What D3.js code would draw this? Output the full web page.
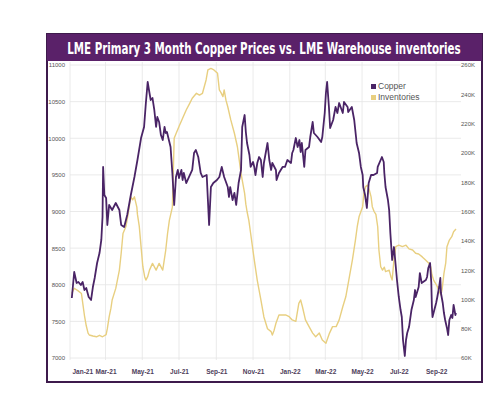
<!DOCTYPE html>
<html>
<head>
<meta charset="utf-8">
<script src="https://cdn.jsdelivr.net/npm/d3@7"></script>
<style>
  body { margin: 0; background: #fff; }
  svg { display: block; font-family: "Liberation Sans", Arial, sans-serif; }
</style>
</head>
<body>
<div id="chart"></div>
<script>
// ============================
// Data
// ============================

const title = "LME Primary 3 Month Copper Prices vs. LME Warehouse inventories";
const seriesNames = ["Copper", "Inventories"];

const priceTicks = [7000, 7500, 8000, 8500, 9000, 9500, 10000, 10500, 11000];
const stockTicks = [60000, 80000, 100000, 120000, 140000, 160000, 180000, 200000, 220000, 240000, 260000];
const monthTicks = ["2021-01-01", "2021-03-01", "2021-05-01", "2021-07-01", "2021-09-01", "2021-11-01",
                    "2022-01-01", "2022-03-01", "2022-05-01", "2022-07-01", "2022-09-01"];

// LME 3M copper, USD/t
const copper = [
  ["2021-01-04", 7819], ["2021-01-08", 8174], ["2021-01-12", 8024], ["2021-01-15", 8038],
  ["2021-01-19", 7997], ["2021-01-22", 8038], ["2021-01-25", 7928], ["2021-01-28", 7956],
  ["2021-02-01", 7833], ["2021-02-05", 7792], ["2021-02-08", 7969], ["2021-02-11", 8092],
  ["2021-02-15", 8297], ["2021-02-19", 8433], ["2021-02-22", 8611], ["2021-02-24", 8925],
  ["2021-02-25", 9608], ["2021-02-27", 9225], ["2021-03-02", 9184], ["2021-03-04", 8816],
  ["2021-03-07", 9089], ["2021-03-12", 9020], ["2021-03-18", 9116], ["2021-03-24", 9020],
  ["2021-03-27", 8816], ["2021-04-01", 8788], ["2021-04-06", 8952], ["2021-04-12", 9225],
  ["2021-04-18", 9471], ["2021-04-23", 9703], ["2021-04-29", 10003], ["2021-05-04", 10154],
  ["2021-05-07", 10481], ["2021-05-10", 10768], ["2021-05-13", 10618], ["2021-05-15", 10522],
  ["2021-05-18", 10549], ["2021-05-21", 10386], ["2021-05-24", 10154], ["2021-05-26", 10290],
  ["2021-05-29", 10222], ["2021-06-01", 10044], ["2021-06-04", 9976], ["2021-06-07", 10154],
  ["2021-06-09", 10072], ["2021-06-11", 10085], ["2021-06-15", 9949], ["2021-06-17", 9881],
  ["2021-06-20", 9526], ["2021-06-23", 9089], ["2021-06-26", 9471], ["2021-06-29", 9567],
  ["2021-07-01", 9457], ["2021-07-05", 9567], ["2021-07-07", 9430], ["2021-07-09", 9526],
  ["2021-07-13", 9389], ["2021-07-19", 9498], ["2021-07-23", 9567], ["2021-07-26", 9799],
  ["2021-07-29", 9840], ["2021-08-02", 9744], ["2021-08-06", 9526], ["2021-08-09", 9471],
  ["2021-08-16", 9498], ["2021-08-18", 9157], ["2021-08-20", 8816], ["2021-08-23", 9334],
  ["2021-08-27", 9389], ["2021-09-02", 9430], ["2021-09-06", 9471], ["2021-09-10", 9608],
  ["2021-09-14", 9471], ["2021-09-20", 9334], ["2021-09-22", 9198], ["2021-09-24", 9334],
  ["2021-09-28", 9157], ["2021-10-01", 9253], ["2021-10-04", 9089], ["2021-10-08", 9389],
  ["2021-10-12", 9567], ["2021-10-14", 10154], ["2021-10-18", 10317], ["2021-10-20", 10085],
  ["2021-10-22", 9935], ["2021-10-26", 9771], ["2021-10-28", 9608], ["2021-11-01", 9676],
  ["2021-11-03", 9608], ["2021-11-05", 9498], ["2021-11-08", 9662], ["2021-11-11", 9744],
  ["2021-11-14", 9703], ["2021-11-17", 9471], ["2021-11-19", 9662], ["2021-11-22", 9799],
  ["2021-11-25", 9935], ["2021-11-28", 9703], ["2021-12-01", 9567], ["2021-12-03", 9662],
  ["2021-12-09", 9567], ["2021-12-10", 9430], ["2021-12-14", 9526], ["2021-12-20", 9608],
  ["2021-12-24", 9608], ["2021-12-28", 9703], ["2022-01-03", 9662], ["2022-01-05", 9799],
  ["2022-01-07", 9840], ["2022-01-11", 10003], ["2022-01-14", 9881], ["2022-01-17", 9976],
  ["2022-01-19", 9812], ["2022-01-21", 9935], ["2022-01-25", 9608], ["2022-01-27", 9840],
  ["2022-02-02", 9881], ["2022-02-04", 10017], ["2022-02-08", 10222], ["2022-02-10", 10072],
  ["2022-02-16", 10017], ["2022-02-22", 9949], ["2022-02-24", 10017], ["2022-02-28", 10345],
  ["2022-03-02", 10618], ["2022-03-04", 10768], ["2022-03-07", 10427], ["2022-03-09", 10140],
  ["2022-03-14", 10249], ["2022-03-18", 10427], ["2022-03-21", 10345], ["2022-03-24", 10481],
  ["2022-03-30", 10345], ["2022-04-01", 10495], ["2022-04-07", 10427], ["2022-04-08", 10358],
  ["2022-04-14", 10427], ["2022-04-18", 10249], ["2022-04-21", 10017], ["2022-04-22", 9935],
  ["2022-04-26", 9799], ["2022-04-29", 9608], ["2022-05-02", 9498], ["2022-05-03", 9334],
  ["2022-05-06", 9225], ["2022-05-09", 9048], ["2022-05-12", 9389], ["2022-05-16", 9498],
  ["2022-05-20", 9498], ["2022-05-26", 9526], ["2022-05-27", 9608], ["2022-06-03", 9744],
  ["2022-06-06", 9676], ["2022-06-07", 9526], ["2022-06-09", 9334], ["2022-06-13", 9157],
  ["2022-06-15", 9020], ["2022-06-17", 8707], ["2022-06-20", 8338], ["2022-06-23", 8515],
  ["2022-06-24", 8433], ["2022-06-28", 8065], ["2022-07-01", 7833], ["2022-07-04", 7655],
  ["2022-07-06", 7560], ["2022-07-08", 7246], ["2022-07-11", 7027], ["2022-07-13", 7246],
  ["2022-07-15", 7341], ["2022-07-18", 7423], ["2022-07-22", 7655], ["2022-07-26", 7792],
  ["2022-07-28", 7928], ["2022-07-29", 7833], ["2022-08-03", 7969], ["2022-08-05", 8160],
  ["2022-08-08", 8024], ["2022-08-15", 8065], ["2022-08-17", 8106], ["2022-08-19", 8229],
  ["2022-08-22", 8297], ["2022-08-24", 8024], ["2022-08-25", 7696], ["2022-08-26", 7560],
  ["2022-08-29", 7655], ["2022-09-01", 7751], ["2022-09-03", 7833], ["2022-09-06", 7969],
  ["2022-09-08", 8092], ["2022-09-09", 7887], ["2022-09-12", 7751], ["2022-09-14", 7614],
  ["2022-09-16", 7519], ["2022-09-19", 7410], ["2022-09-21", 7314], ["2022-09-23", 7519],
  ["2022-09-26", 7587], ["2022-09-28", 7546], ["2022-09-30", 7724], ["2022-10-03", 7587],
  ["2022-10-04", 7614]
];

// LME warehouse stocks, tonnes
const inventories = [
  ["2021-01-04", 104000], ["2021-01-08", 107600], ["2021-01-14", 106000], ["2021-01-20", 104000],
  ["2021-01-22", 98000], ["2021-01-25", 89000], ["2021-01-28", 82000], ["2021-01-31", 77000],
  ["2021-02-02", 75700], ["2021-02-08", 75000], ["2021-02-14", 74500], ["2021-02-19", 75500],
  ["2021-02-24", 74500], ["2021-03-02", 76000], ["2021-03-04", 80000], ["2021-03-07", 88000],
  ["2021-03-10", 94000], ["2021-03-12", 99600], ["2021-03-18", 107500], ["2021-03-24", 120000],
  ["2021-03-27", 131500], ["2021-03-30", 145000], ["2021-04-04", 150000], ["2021-04-07", 157000],
  ["2021-04-12", 170000], ["2021-04-15", 168000], ["2021-04-18", 170000], ["2021-04-22", 163000],
  ["2021-04-23", 158000], ["2021-04-26", 150000], ["2021-04-29", 136000], ["2021-05-02", 122300],
  ["2021-05-05", 115500], ["2021-05-07", 113200], ["2021-05-10", 115500], ["2021-05-13", 120000],
  ["2021-05-18", 124600], ["2021-05-24", 120000], ["2021-05-29", 124600], ["2021-06-04", 120000],
  ["2021-06-09", 133700], ["2021-06-12", 145000], ["2021-06-15", 154000], ["2021-06-20", 163000],
  ["2021-06-23", 210000], ["2021-06-26", 213000], ["2021-07-01", 218000], ["2021-07-07", 223600],
  ["2021-07-13", 229300], ["2021-07-19", 234000], ["2021-07-23", 237300], ["2021-07-30", 240700],
  ["2021-08-04", 239500], ["2021-08-09", 240700], ["2021-08-15", 249800], ["2021-08-18", 256600],
  ["2021-08-23", 257700], ["2021-08-28", 256600], ["2021-09-03", 254300], ["2021-09-06", 243000],
  ["2021-09-09", 241000], ["2021-09-12", 238400], ["2021-09-14", 243000], ["2021-09-17", 236000],
  ["2021-09-20", 231500], ["2021-09-25", 222500], ["2021-10-01", 213400], ["2021-10-06", 204200],
  ["2021-10-09", 195200], ["2021-10-12", 186000], ["2021-10-18", 172400], ["2021-10-20", 165000],
  ["2021-10-22", 160000], ["2021-10-25", 154000], ["2021-10-28", 145000], ["2021-11-03", 127000],
  ["2021-11-08", 113000], ["2021-11-14", 99600], ["2021-11-19", 88000], ["2021-11-25", 80000],
  ["2021-12-01", 78000], ["2021-12-03", 75700], ["2021-12-06", 79000], ["2021-12-09", 83700],
  ["2021-12-14", 89400], ["2021-12-20", 89400], ["2021-12-25", 89400], ["2021-12-31", 88200],
  ["2022-01-05", 86000], ["2022-01-11", 85000], ["2022-01-16", 97300], ["2022-01-19", 99600],
  ["2022-01-22", 95000], ["2022-01-27", 86000], ["2022-02-02", 81400], ["2022-02-08", 77000],
  ["2022-02-13", 74500], ["2022-02-19", 77000], ["2022-02-24", 72300], ["2022-03-02", 70000],
  ["2022-03-08", 77000], ["2022-03-13", 81400], ["2022-03-19", 81400], ["2022-03-24", 86000],
  ["2022-03-30", 95000], ["2022-04-04", 101800], ["2022-04-09", 113200], ["2022-04-15", 127000],
  ["2022-04-20", 140500], ["2022-04-23", 149600], ["2022-04-26", 156400], ["2022-05-02", 163300],
  ["2022-05-04", 172400], ["2022-05-07", 177000], ["2022-05-10", 178000], ["2022-05-13", 174700],
  ["2022-05-16", 170000], ["2022-05-18", 163300], ["2022-05-21", 160000], ["2022-05-24", 158000],
  ["2022-05-27", 149600], ["2022-05-29", 133700], ["2022-06-01", 122300], ["2022-06-04", 120000],
  ["2022-06-07", 122000], ["2022-06-09", 119000], ["2022-06-15", 120000], ["2022-06-18", 115500],
  ["2022-06-20", 113200], ["2022-06-23", 127000], ["2022-06-26", 136000], ["2022-07-01", 137000],
  ["2022-07-07", 136000], ["2022-07-13", 137000], ["2022-07-18", 134500], ["2022-07-24", 133700],
  ["2022-07-29", 131500], ["2022-08-03", 131000], ["2022-08-09", 129000], ["2022-08-14", 127000],
  ["2022-08-20", 124600], ["2022-08-23", 122300], ["2022-08-25", 117000], ["2022-08-28", 113000],
  ["2022-08-31", 111000], ["2022-09-03", 108700], ["2022-09-05", 106400], ["2022-09-09", 103000],
  ["2022-09-11", 107000], ["2022-09-14", 117800], ["2022-09-17", 125000], ["2022-09-19", 136000],
  ["2022-09-23", 140500], ["2022-09-27", 142800], ["2022-09-30", 146200], ["2022-10-04", 148000]
];

// ============================
// Setup
// ============================

const width = 500;
const height = 397;
const plot = {left: 70, right: 459, top: 65, bottom: 358};

const colors = {
  frame: "#3e1a4c",
  header: "#5a2169",
  copper: "#4a2466",
  stock: "#e8cf80",
  grid: "#e4e4e4",
  text: "#555"
};

const parse = d3.timeParse("%Y-%m-%d");
const copperData = copper.map(d => ({date: parse(d[0]), value: d[1]}));
const stockData = inventories.map(d => ({date: parse(d[0]), value: d[1]}));
const tickDates = monthTicks.map(parse);

const xscale = d3.scaleTime()
  .domain([new Date(2021, 0, 1), new Date(2022, 9, 9)])
  .range([plot.left, plot.right]);

const yLeft = d3.scaleLinear()
  .domain([priceTicks[0], priceTicks[priceTicks.length - 1]])
  .range([plot.bottom, plot.top]);

const yRight = d3.scaleLinear()
  .domain([stockTicks[0], stockTicks[stockTicks.length - 1]])
  .range([plot.bottom, plot.top]);

const svg = d3.select("#chart").append("svg")
  .attr("width", width)
  .attr("height", height)
  .attr("viewBox", [0, 0, width, height]);

// ============================
// Frame and header
// ============================

svg.append("rect")
  .attr("x", 47).attr("y", 34)
  .attr("width", 435).attr("height", 348)
  .attr("fill", "#fff")
  .attr("stroke", colors.frame)
  .attr("stroke-width", 2);

svg.append("rect")
  .attr("x", 47).attr("y", 34)
  .attr("width", 435).attr("height", 27)
  .attr("fill", colors.header);

// title is squeezed to the width seen in the reference (condensed face)
const titleText = svg.append("text")
  .attr("text-anchor", "middle")
  .attr("fill", "#fff")
  .attr("font-family", "'Liberation Sans Narrow', 'DejaVu Sans Condensed', sans-serif")
  .attr("font-weight", "bold")
  .attr("font-size", 15)
  .text(title);

const titleWidth = titleText.node().getComputedTextLength();
const squeeze = Math.min(1, 394 / titleWidth);
titleText.attr("transform", `translate(264,53.5) scale(${squeeze},1)`);

// ============================
// Grid
// ============================

svg.append("g")
  .attr("stroke", colors.grid)
  .attr("stroke-width", 0.8)
  .selectAll("line.h")
  .data(priceTicks)
  .join("line")
  .attr("x1", plot.left).attr("x2", plot.right + 2)
  .attr("y1", d => yLeft(d)).attr("y2", d => yLeft(d));

svg.append("g")
  .attr("stroke", colors.grid)
  .attr("stroke-width", 0.8)
  .selectAll("line.v")
  .data(tickDates)
  .join("line")
  .attr("x1", d => xscale(d)).attr("x2", d => xscale(d))
  .attr("y1", plot.top - 3).attr("y2", plot.bottom + 2);

// ============================
// Axes
// ============================

const leftAxis = svg.append("g")
  .attr("transform", `translate(${plot.left - 5},0)`)
  .call(d3.axisLeft(yLeft).tickValues(priceTicks).tickSize(0).tickPadding(0).tickFormat(d3.format("d")));

const rightAxis = svg.append("g")
  .attr("transform", `translate(${plot.right + 2},0)`)
  .call(d3.axisRight(yRight).tickValues(stockTicks).tickSize(0).tickPadding(0)
    .tickFormat(d => (d / 1000) + "K"));

const bottomAxis = svg.append("g")
  .attr("transform", `translate(0,${plot.bottom + 11})`)
  .call(d3.axisBottom(xscale).tickValues(tickDates).tickSize(0).tickPadding(0)
    .tickFormat(d3.timeFormat("%b-%y")));

[leftAxis, rightAxis, bottomAxis].forEach(g => {
  g.select(".domain").remove();
  g.selectAll("text")
    .attr("fill", colors.text)
    .attr("font-family", "'Liberation Sans Narrow', 'Liberation Sans', sans-serif");
});

leftAxis.selectAll("text").attr("font-size", 6);
rightAxis.selectAll("text").attr("font-size", 6);
bottomAxis.selectAll("text")
  .attr("font-size", 6.5)
  .attr("font-weight", "bold")
  .attr("fill", "#4d3d5a");
// first month label sits to the right of its tick so it stays inside the frame
bottomAxis.select(".tick text").attr("text-anchor", "start").attr("dx", 2);

// ============================
// Lines
// ============================

const stockLine = d3.line()
  .x(d => xscale(d.date))
  .y(d => yRight(d.value));

const copperLine = d3.line()
  .x(d => xscale(d.date))
  .y(d => yLeft(d.value));

svg.append("path")
  .datum(stockData)
  .attr("fill", "none")
  .attr("stroke", colors.stock)
  .attr("stroke-width", 1.4)
  .attr("stroke-linejoin", "round")
  .attr("d", stockLine);

svg.append("path")
  .datum(copperData)
  .attr("fill", "none")
  .attr("stroke", colors.copper)
  .attr("stroke-width", 1.8)
  .attr("stroke-linejoin", "round")
  .attr("d", copperLine);

// ============================
// Legend
// ============================

const legend = svg.append("g")
  .attr("transform", "translate(371,84)")
  .selectAll("g")
  .data(seriesNames)
  .join("g")
  .attr("transform", (d, i) => `translate(0,${i * 11})`);

legend.append("rect")
  .attr("width", 5).attr("height", 5)
  .attr("fill", (d, i) => i === 0 ? colors.copper : colors.stock);

legend.append("text")
  .attr("x", 7).attr("y", 5)
  .attr("font-size", 8.5)
  .attr("fill", colors.text)
  .text(d => d);
</script>
</body>
</html>
